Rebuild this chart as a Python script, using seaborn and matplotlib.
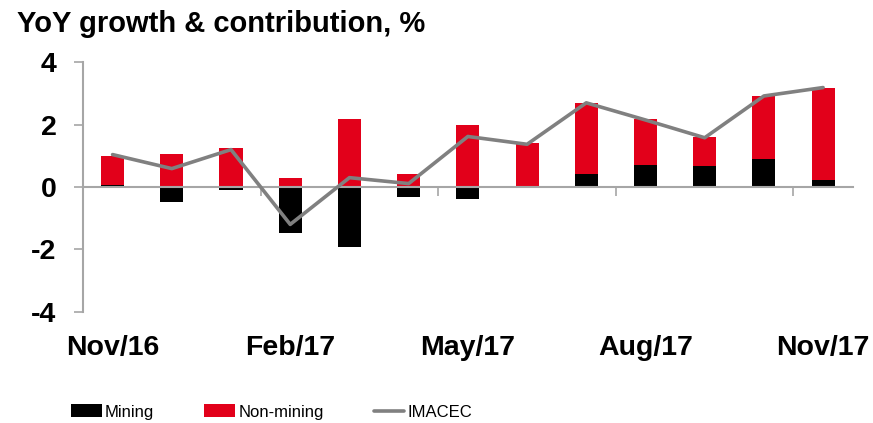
import numpy as np
import matplotlib
matplotlib.use("Agg")
import matplotlib.pyplot as plt
import seaborn as sns
from matplotlib.patches import Patch
from matplotlib.lines import Line2D

# data
months = ["Nov/16", "Dec/16", "Jan/17", "Feb/17", "Mar/17", "Apr/17", "May/17",
          "Jun/17", "Jul/17", "Aug/17", "Sep/17", "Oct/17", "Nov/17"]
mining = [0.07, -0.48, -0.09, -1.49, -1.91, -0.32, -0.37, -0.02, 0.42, 0.71, 0.67, 0.89, 0.22]
non_mining = [0.94, 1.06, 1.24, 0.28, 2.17, 0.43, 1.98, 1.41, 2.28, 1.48, 0.92, 2.02, 2.94]
imacec = [1.04, 0.59, 1.20, -1.20, 0.30, 0.11, 1.62, 1.37, 2.70, 2.15, 1.58, 2.92, 3.19]
shown_labels = ["Nov/16", "Feb/17", "May/17", "Aug/17", "Nov/17"]

RED = "#e2001a"
GRAY = "#808080"
AXGRAY = "#a6a6a6"

sns.set_theme(style="ticks")
plt.rcParams["font.family"] = ["Liberation Sans", "DejaVu Sans"]
plt.rcParams["axes.unicode_minus"] = False
plt.rcParams["text.color"] = "black"

fig = plt.figure(figsize=(8.73, 4.23), dpi=100)
ax = fig.add_axes([83 / 873, 1 - 311.7 / 423, (852.7 - 83) / 873, (311.7 - 62.3) / 423])

# red stacked on top of positive mining -> draw total then mining over it
red_top = np.clip(mining, 0, None) + np.array(non_mining)
sns.barplot(x=months, y=red_top, color=RED, saturation=1, width=0.39, linewidth=0, ax=ax)
sns.barplot(x=months, y=mining, color="black", saturation=1, width=0.39, linewidth=0, ax=ax)
sns.lineplot(x=np.arange(len(months)), y=imacec, color=GRAY, linewidth=2.6, ax=ax, zorder=3)

ax.set_xlim(-0.5, 12.5)
ax.set_ylim(-4, 4)
ax.set_xlabel("")
ax.set_ylabel("")

for s in ["top", "right"]:
    ax.spines[s].set_visible(False)
ax.spines["left"].set_color(AXGRAY)
ax.spines["left"].set_linewidth(1.5)
ax.spines["bottom"].set_position(("data", 0))
ax.spines["bottom"].set_color(AXGRAY)
ax.spines["bottom"].set_linewidth(1.5)
ax.spines["bottom"].set_zorder(2.5)

ax.set_xticks([2.5, 5.5, 8.5, 11.5], labels=[])
ax.tick_params(axis="x", length=6.5, width=1.2, color=AXGRAY, direction="out")

ax.set_yticks([-4, -2, 0, 2, 4])
ax.tick_params(axis="y", length=6.5, width=1.2, color=AXGRAY, pad=12.5,
               labelsize=20.5, labelcolor="black")
for t in ax.get_yticklabels():
    t.set_fontweight("bold")

sec = ax.secondary_xaxis("bottom")
sec.set_xticks([months.index(m) for m in shown_labels], labels=shown_labels)
sec.tick_params(length=0, pad=16.5, labelsize=20.5, labelcolor="black")
sec.spines["bottom"].set_visible(False)
for t in sec.get_xticklabels():
    t.set_fontweight("bold")

fig.text(17 / 873, 1 - 32 / 423, "YoY growth & contribution, %", fontsize=21,
         fontweight="bold", va="baseline", ha="left", color="black")

handles = [Patch(color="black", linewidth=0), Patch(color=RED, linewidth=0),
           Line2D([], [], color=GRAY, linewidth=2.6)]
fig.legend(handles, ["Mining", "Non-mining", "IMACEC"], ncol=3, frameon=False,
           loc="center left", bbox_to_anchor=(70.7 / 873, 1 - 412 / 423),
           borderpad=0, borderaxespad=0, handlelength=1.85, handleheight=0.8,
           handletextpad=0.2, columnspacing=3.0, labelcolor="black",
           prop={"family": ["Liberation Sans Narrow", "Liberation Sans"], "size": 12})

fig.savefig("out.png", dpi=100)
